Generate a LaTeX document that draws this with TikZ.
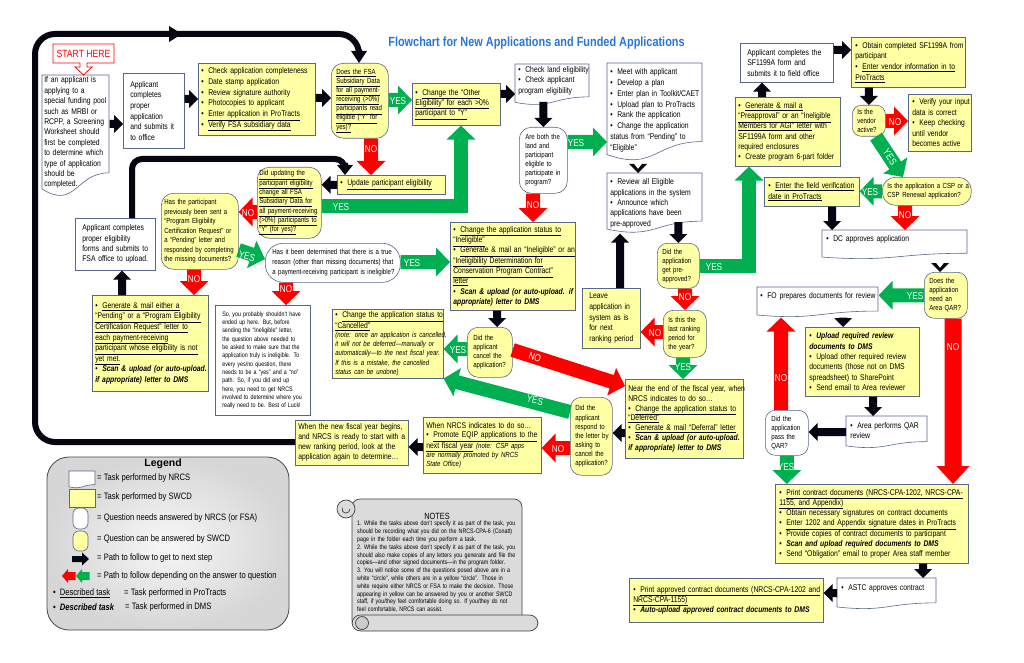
\documentclass[tikz,border=0pt]{standalone}
\usepackage{fontspec}
\setmainfont{Liberation Sans}[FakeStretch=0.82]
\newfontfamily\widefont{Liberation Sans}
\usetikzlibrary{calc}
\definecolor{bord}{RGB}{88,104,136}
\definecolor{yel}{RGB}{255,255,163}
\definecolor{grn}{RGB}{0,176,80}
\definecolor{rd}{RGB}{255,0,0}
\definecolor{blk}{RGB}{6,6,18}
\definecolor{ttl}{RGB}{38,118,222}
\newcommand\tsp{\linepenalty=5000 \spaceskip=\fontdimen2\font minus .3\fontdimen2\font\relax}
\newcommand\fsz[2]{\fontsize{#1}{#2}\selectfont\tsp}
\newcommand\fA{\fsz{8.3}{10.4}}
\newcommand\fQ{\fsz{7.4}{9.1}}
\newcommand\und[1]{\underline{#1}}
\newcommand\bfi[1]{\textbf{\textit{#1}}}
\newcommand\nt{\fontsize{7.4}{9.1}\selectfont\itshape}
\newcommand\bI{\hangindent=7pt\hangafter=1\makebox[7pt][l]{•}}
\newcommand\bi{\par\bI}
\newcommand\nI[1]{\hangindent=7pt\hangafter=1\makebox[7pt][l]{#1}}
\newcommand\dep[1]{\rule[-#1]{0pt}{#1}}
\newcommand\docsh[4]{\draw[draw=bord, fill=white, line width=0.6pt] (#1,#2) -- ({#1+#3},#2) -- ({#1+#3},{#2+0.802*#4}) .. controls ({#1+0.5*#3},{#2+0.802*#4}) and ({#1+0.5*#3},{#2+1.1075*#4}) .. (#1,{#2+0.934*#4}) -- cycle;}
\newcommand\barrow[6]{%
  \path #5 coordinate (bA) #6 coordinate (bB);
  \path ($(bB)!#4!(bA)$) coordinate (bM);
  \fill[#1] ($(bA)!#2!90:(bB)$) -- ($(bM)!#2!-90:(bA)$) -- ($(bM)!#3!-90:(bA)$) -- (bB) -- ($(bM)!#3!90:(bA)$) -- ($(bM)!#2!90:(bA)$) -- ($(bA)!#2!-90:(bB)$) -- cycle;}
\newcommand\BA[2]{\barrow{blk}{4pt}{9pt}{9pt}{#1}{#2}}
\newcommand\GA[2]{\barrow{grn}{7pt}{14.5pt}{14pt}{#1}{#2}}
\newcommand\RA[2]{\barrow{rd}{7pt}{14.5pt}{14pt}{#1}{#2}}
\tikzset{
  nowrap/.style={execute at begin node={\hyphenpenalty=10000 \exhyphenpenalty=10000 \linepenalty=5000 \rightskip=0pt plus 1fil minus 16pt\relax}},
  tb/.style={anchor=north west, inner xsep=3pt, inner ysep=1pt, align=left, font=\fA, line width=0.6pt, draw=bord, nowrap},
  sw/.style={tb, fill=yel},
  nr/.style={tb, fill=white},
  nd/.style={tb, draw=none},
  qs/.style={tb, fill=yel, rounded corners=9pt, font=\fQ},
  qn/.style={tb, fill=white, rounded corners=9pt, font=\fQ},
  bxs/.code n args={5}{\pgfmathsetmacro\bxw{#3-2*#5}\pgfkeysalso{at={(#1,#2)}, minimum width=#3pt, minimum height=#4pt, inner xsep=#5pt, text width=\bxw pt}},
  bx/.style n args={4}{bxs={#1}{#2}{#3}{#4}{3}},
  lab/.style={text=white, font=\fsz{10}{11}, inner sep=0pt},
  lt/.style={anchor=west, inner sep=0pt, font=\fsz{9.3}{11}},
  loopl/.style={draw=blk, line width=6pt, rounded corners=20pt},
  scrl/.style={draw=gray!50!black, fill=gray!28, line width=0.7pt},
}
\begin{document}
\begin{tikzpicture}[x=1pt,y=-1pt]
\useasboundingbox (0,0) rectangle (1024,663);
\fill[white] (0,0) rectangle (1024,663);

\node[font=\bfseries\fsz{13.3}{15}, text=ttl, inner sep=0pt] (title) at (536.5,43) {Flowchart for New Applications and Funded Applications};

% ---------- left part ----------
\docsh{42}{75}{67}{122}
\node[nd, bxs={42}{75}{67}{122}{2}] (scr) {If an applicant is\\applying to a\\special funding pool\\such as MRBI or\\RCPP, a Screening\\Worksheet should\\first be completed\\to determine which\\type of application\\should be\\completed.\dep{8.7pt}};
\draw[draw=rd, line width=0.8pt, fill=white] (53,44) -- (114,44) -- (114,63) -- (87,63) -- (87,67) -- (92,67) -- (83.5,75) -- (75,67) -- (80,67) -- (80,63) -- (53,63) -- cycle;
\node[text=rd, font=\fsz{10.5}{12}, inner sep=0pt] (start) at (83.5,53.5) {START HERE};

\node[nr, bxs={123}{73}{61}{75}{7}, font=\fsz{8.3}{10.6}] (app) {Applicant\\completes\\proper\\application\\and submits it\\to office};
\node[sw, bx={198}{63}{117}{72}, font=\fsz{8.3}{10.8}] (chk) {\bI Check application completeness\bi Date stamp application\bi Review signature authority\bi Photocopies to applicant\bi\und{Enter application in ProTracts}\bi\und{Verify FSA subsidiary data}};
\node[qs, bxs={331}{63}{57}{75}{5}, rounded corners=12pt] (fsa) {\und{Does the FSA}\\\und{Subsidiary Data}\\\und{for all payment-}\\\und{receiving (>0\%)}\\\und{participants read}\\\und{eligible (“Y” for}\\\und{yes)?}};
\node[sw, bx={412}{83}{88}{42}] (oth) {\bI\und{Change the “Other}\\\und{Eligibility” for each >0\%}\\\und{participant to “Y”}};
\node[sw, bx={337}{175}{108}{19}] (updb) {\bI\und{Update participant eligibility}};
\node[qs, bxs={257}{167}{64}{71}{2}, rounded corners=12pt, font=\fsz{7.4}{9.3}] (upd) {\und{Did updating the}\\\und{participant eligibility}\\\und{change all FSA}\\\und{Subsidiary Data for}\\\und{all payment-receiving}\\\und{(>0\%) participants to}\\\und{“Y” (for yes)?}};
\node[qs, bxs={161}{193}{77}{76}{3}, rounded corners=12pt, font=\fsz{7.4}{9.5}] (hasp) {Has the participant\\previously been sent a\\“Program Eligibility\\Certification Request” or\\a “Pending” letter and\\responded by completing\\the missing documents?};
\node[nr, bxs={75}{218}{80}{52}{7}, font=\fsz{8.3}{10.3}] (elig) {Applicant completes\\proper eligibility\\forms and submits to\\FSA office to upload.};
\node[sw, bxs={92}{295}{116}{96}{3}, font=\fsz{8.3}{10.6}] (gen) {\bI\und{Generate \& mail either a}\\\und{“Pending” or a “Program Eligibility}\\\und{Certification Request” letter to}\\\und{each payment-receiving}\\\und{participant whose eligibility is not}\\\und{yet met.}\bi\bfi{Scan \& upload (or auto-upload.}\\\bfi{if appropriate) letter to DMS}};
\node[qn, bxs={265}{243}{135}{39}{7}, rounded corners=18pt, font=\fsz{7.4}{10}] (hasit) {Has it been determined that there is a true\\reason (other than missing documents) that\\a payment-receiving participant is ineligible?};
\node[nr, bxs={215}{305}{95}{110}{7}, font=\fsz{6.5}{8.3}] (sorry) {So, you probably shouldn’t have\\ended up here. But, before\\sending the “Ineligible” letter,\\the question above needed to\\be asked to make sure that the\\application truly is ineligible. To\\every yes/no question, there\\needs to be a “yes” and a “no”\\path. So, if you did end up\\here, you need to get NRCS\\involved to determine where you\\really need to be. Best of Luck!};

% ---------- middle part ----------
\docsh{515}{64}{74}{41}
\node[nd, bxs={515}{64}{74}{41}{3}] (land) {\bI Check land eligibility\bi Check applicant\\program eligibility\dep{9.7pt}};
\node[qn, bxs={519}{127}{48}{66}{6}, rounded corners=12pt] (both) {Are both the\\land and\\participant\\eligible to\\participate in\\program?};
\docsh{607}{63}{95}{98}
\node[nd, bxs={607}{63}{95}{98}{3}, font=\fsz{8.3}{10.9}] (plan) {\bI Meet with applicant\bi Develop a plan\bi Enter plan in Toolkit/CAET\bi Upload plan to ProTracts\bi Rank the application\bi Change the application\\status from “Pending” to\\“Eligible”\dep{5.7pt}};
\docsh{607}{173}{95}{60}
\node[nd, bxs={607}{173}{95}{60}{3}] (rev) {\bI Review all Eligible\\applications in the system\bi Announce which\\applications have been\\pre-approved};
\node[qs, bxs={657}{243}{42}{45}{5}, rounded corners=10pt] (pre) {Did the\\application\\get pre-\\approved?};
\node[qs, bxs={663}{310}{43}{47}{5}, rounded corners=10pt] (last) {Is this the\\last ranking\\period for\\the year?};
\node[sw, bxs={582}{288}{58}{60}{7}, font=\fsz{8.3}{10.7}] (leave) {Leave\\application in\\system as is\\for next\\ranking period};
\node[sw, bxs={450}{222}{125}{88}{3}, font=\fsz{8.3}{10.3}] (inel) {\bI\und{Change the application status to}\\\und{“Ineligible”}\bi\und{Generate \& mail an “Ineligible” or an}\\\und{“Ineligibility Determination for}\\\und{Conservation Program Contract”}\\\und{letter}\bi\bfi{Scan \& upload (or auto-upload. if}\\\bfi{appropriate) letter to DMS}};
\node[qs, bxs={467}{327}{45}{50}{6}, rounded corners=11pt] (canq) {Did the\\applicant\\cancel the\\application?};
\node[sw, bxs={332}{309}{111}{69}{3}, font=\fsz{8.3}{9.1}] (canc) {\bI\und{Change the application status to}\\\und{“Cancelled”}\par{\nt(note: once an application is cancelled,\\it will not be deferred—manually or\\automatically—to the next fiscal year.\\If this is a mistake, the cancelled\\status can be undone)}};
\node[sw, bxs={625}{379}{118}{79}{3}, font=\fsz{8.3}{9.9}] (near) {Near the end of the fiscal year, when\\NRCS indicates to do so…\bi\und{Change the application status to}\\\und{“Deferred”}\bi\und{Generate \& mail “Deferral” letter}\bi\bfi{Scan \& upload (or auto-upload.}\\\bfi{if appropriate) letter to DMS}};
\node[qs, bxs={570}{397}{42}{78}{5}, rounded corners=11pt] (resp) {Did the\\applicant\\respond to\\the letter by\\asking to\\cancel the\\application?};
\node[sw, bxs={423}{417}{118}{56}{3}, font=\fsz{8.3}{9.1}] (prom) {When NRCS indicates to do so…\bi\und{Promote EQIP applications to the}\\\und{next fiscal year} {\nt(note: CSP apps\\are normally promoted by NRCS\\State Office)}};
\node[sw, bxs={295}{420}{113}{45}{3}, font=\fsz{8.3}{10}] (newfy) {When the new fiscal year begins,\\and NRCS is ready to start with a\\new ranking period, look at the\\application again to determine…};

% ---------- right part ----------
\node[nr, bxs={740}{43}{93}{39}{7}] (sf) {Applicant completes the\\SF1199A form and\\submits it to field office};
\node[sw, bxs={851}{37}{114}{50}{4}, font=\fsz{8.3}{10.7}] (obt) {\bI Obtain completed SF1199A from\\participant\bi\und{Enter vendor information in to}\\\und{ProTracts}};
\node[sw, bxs={735}{97}{105}{69}{3}, font=\fsz{8.3}{10.2}] (gpre) {\bI\und{Generate \& mail a}\\\und{“Preapproval” or an “Ineligible}\\\und{Members for AGI” letter} with\\SF1199A form and other\\required enclosures\bi Create program 6-part folder};
\node[qs, bxs={852}{105}{33}{31}{5}, rounded corners=9pt] (ven) {Is the\\vendor\\active?};
\node[sw, bxs={908}{94}{63}{57}{4}, font=\fsz{8.3}{10.5}] (ver) {\bI Verify your input\\data is correct\bi Keep checking\\until vendor\\becomes active};
\node[qs, bxs={882}{177}{89}{28}{5}, rounded corners=13pt] (csp) {Is the application a CSP or a\\CSP Renewal application?};
\node[sw, bxs={764}{177}{95}{29}{4}, font=\fsz{8.3}{10.5}] (fld) {\bI\und{Enter the field verification}\\\und{date in ProTracts}};
\docsh{822}{230}{145}{29}
\node[nd, bxs={822}{230}{145}{29}{4}] (dc) {\bI DC approves application\dep{12.7pt}};
\node[qs, bxs={924}{272}{43}{46}{5}, rounded corners=10pt] (qar) {Does the\\application\\need an\\Area QAR?};
\docsh{757}{287}{121}{30}
\node[nd, bxs={757}{287}{121}{30}{3}] (fo) {\bI FO prepares documents for review\dep{13.7pt}};
\node[sw, bxs={805}{327}{114}{69}{4}, font=\fsz{8.3}{10.4}] (upl) {\bI\bfi{Upload required review}\\\bfi{documents to DMS}\bi Upload other required review\\documents (those not on DMS\\spreadsheet) to SharePoint\bi Send email to Area reviewer};
\docsh{846}{416}{81}{32}
\node[nd, bxs={846}{416}{81}{32}{4}] (area) {\bI Area performs QAR\\review\dep{4pt}};
\node[qn, bxs={765}{410}{43}{45}{6}, rounded corners=10pt] (pass) {Did the\\application\\pass the\\QAR?};
\node[sw, bxs={775}{484}{193}{79}{4}, font=\fsz{8.3}{10.3}] (prc) {\bI\und{Print contract documents (NRCS-CPA-1202, NRCS-CPA-}\\\und{1155, and Appendix)}\bi Obtain necessary signatures on contract documents\bi\und{Enter 1202 and Appendix signature dates in ProTracts}\bi Provide copies of contract documents to participant\bi\bfi{Scan and upload required documents to DMS}\bi Send “Obligation” email to proper Area staff member};
\docsh{837}{578}{99}{31}
\node[nd, bxs={837}{578}{99}{31}{4}] (astc) {\bI ASTC approves contract\dep{12.7pt}};
\node[sw, bxs={629}{578}{194}{44}{4}, font=\fsz{8.3}{10}] (pra) {\bI\und{Print approved contract documents (NRCS-CPA-1202 and}\\\und{NRCS-CPA-1155)}\bi\bfi{Auto-upload approved contract documents to DMS}};

% ---------- loops ----------
\draw[loopl] (newfy.west |- 0,442) -- (35,442) -- (35,34) -- (359,34) -- (359,58);
\barrow{blk}{3pt}{8pt}{12pt}{(359,50)}{(fsa.north -| 359,0)}
\fill[blk] (169,26) -- (182,34) -- (169,42) -- cycle;
\draw[loopl, rounded corners=10pt] (elig.north -| 132,0) -- (132,159) -- (345,159) -- (345,171);
\barrow{blk}{3pt}{8pt}{10pt}{(345,163)}{(updb.north -| 345,0)}

% ---------- black arrows ----------
\BA{(scr.east |- 0,124)}{(app.west |- 0,124)}
\BA{(app.east |- 0,99)}{(chk.west |- 0,99)}
\BA{(chk.east |- 0,98)}{(fsa.west |- 0,98)}
\BA{(oth.east |- 0,94)}{(land.west |- 0,94)}
\BA{(both.north |- 0,102)}{(both.north)}
\BA{(rev.north -| 638,0 |- 0,157)}{(rev.north -| 638,0)}
\BA{(pre.north |- 0,222)}{(pre.north)}
\BA{(leave.north -| 620,0)}{(rev.south -| 620,0)}
\BA{(near.west |- 0,433)}{(resp.east |- 0,433)}
\BA{(inel.south -| 497,0)}{(canq.north -| 497,0)}
\BA{(prom.west |- 0,447)}{(newfy.east |- 0,447)}
\BA{(updb.west)}{(upd.east |- updb.west)}
\BA{(gen.north -| 122,0)}{(elig.south -| 122,0)}
\BA{(gpre.north -| 762,0)}{(sf.south -| 762,0)}
\BA{(sf.east |- 0,50)}{(obt.west |- 0,50)}
\BA{(ven.north |- obt.south)}{(ven.north)}
\BA{(fld.south -| 832,0)}{(dc.north -| 832,0)}
\BA{(qar.north -| 940,0 |- 0,254)}{(qar.north -| 940,0)}
\BA{(fo.south -| 843,0 |- 0,312)}{(upl.north -| 843,0)}
\BA{(upl.south -| 873,0)}{(area.north -| 873,0)}
\BA{(area.west |- 0,432)}{(pass.east |- 0,432)}
\BA{(prc.south -| 923,0)}{(astc.north -| 923,0)}
\BA{(astc.west |- 0,593)}{(pra.east |- 0,593)}

% ---------- green arrows ----------
\GA{(fsa.east |- 0,100)}{(oth.west |- 0,100)}
\GA{(both.east |- 0,142)}{(plan.west |- 0,142)}
\draw[grn, line width=14pt] (upd.east |- 0,206) -- (461,206) -- (461,136);
\GA{(461,145)}{(oth.south -| 461,0)}
\draw[grn, line width=14pt] (pre.east |- 0,266) -- (749,266) -- (749,176);
\GA{(749,185)}{(gpre.south -| 749,0)}
\GA{(last.south -| 683,0)}{(near.north -| 683,0)}
\GA{(hasp.east |- 0,250)}{(hasit.west |- 0,259)}
\GA{(hasit.east |- 0,262)}{(inel.west |- 0,262)}
\GA{(canq.west |- 0,349)}{(canc.east |- 0,349)}
\GA{(resp.west |- 0,412)}{(canc.south east)}
\GA{(ven.south -| 876,0)}{(csp.north -| 903,0)}
\GA{(csp.west)}{(fld.east |- csp.west)}
\GA{(qar.west)}{(fo.east |- qar.west)}
\GA{(pass.south)}{(prc.north -| pass.south)}

% ---------- red arrows ----------
\RA{(fsa.south -| 371,0)}{(updb.north -| 371,0)}
\RA{(both.south -| 533,0)}{(inel.north -| 533,0)}
\RA{(upd.west |- 0,212)}{(hasp.east |- 0,212)}
\RA{(hasp.south -| 194,0)}{(gen.north -| 194,0)}
\RA{(hasit.south -| 286,0)}{(sorry.north -| 286,0)}
\RA{(canq.east |- 0,350)}{(near.west |- 0,386)}
\RA{(pre.south -| 685,0)}{(last.north -| 685,0)}
\RA{(last.west |- 0,332)}{(leave.east |- 0,332)}
\RA{(resp.west |- 0,448)}{(prom.east |- 0,448)}
\RA{(ven.east |- 0,121)}{(ver.west |- 0,121)}
\RA{(csp.south -| 905,0)}{(dc.north -| 905,0)}
\barrow{rd}{8.5pt}{16.5pt}{18pt}{(qar.south -| 953,0)}{(prc.north -| 953,0)}
\RA{(pass.north -| 781,0)}{(fo.south -| 781,0)}

% ---------- labels ----------
\node[lab] (y1) at (398,101) {YES};
\node[lab] (n1) at (371,149) {NO};
\node[lab] (y2) at (576,143) {YES};
\node[lab] (n2) at (533,205) {NO};
\node[lab] (y3) at (341,207) {YES};
\node[lab] (n3) at (248,213) {NO};
\node[lab] (n4) at (194,279) {NO};
\node[lab, rotate=-16] (y4) at (247,256) {YES};
\node[lab] (y5) at (412,263) {YES};
\node[lab] (n5) at (286,289) {NO};
\node[lab] (y6) at (714,267) {YES};
\node[lab] (n6) at (685,297) {NO};
\node[lab] (n7) at (655,333) {NO};
\node[lab] (y7) at (683,367) {YES};
\node[lab] (y8) at (458,350) {YES};
\node[lab, rotate=-18] (n8) at (535,357) {NO};
\node[lab, rotate=-15] (y9) at (535,400) {YES};
\node[lab] (n9) at (558,449) {NO};
\node[lab] (n10) at (895,122) {NO};
\node[lab, rotate=-58] (y10) at (890,157) {YES};
\node[lab] (y11) at (870,192) {YES};
\node[lab] (n11) at (905,215) {NO};
\node[lab] (y12) at (915,296) {YES};
\node[lab] (n12) at (953,347) {NO};
\node[lab] (n13) at (781,378) {NO};
\node[lab] (y13) at (786,467) {YES};

% ---------- legend ----------
\draw[draw=gray!55!black, line width=0.8pt, inner color=gray!6, outer color=gray!32, rounded corners=22pt] (47,457) rectangle (289,630);
\node[font=\widefont\bfseries\fontsize{10.5}{12}\selectfont, inner sep=0pt] (lgt) at (163,464) {Legend};
\docsh{69}{471}{26}{17}
\draw[draw=bord, fill=yel, line width=0.6pt] (69,489) rectangle (95,507);
\draw[draw=bord, fill=white, line width=0.6pt, rounded corners=6pt] (73,508) rectangle (88,529);
\draw[draw=bord, fill=yel, line width=0.6pt, rounded corners=6pt] (73,531) rectangle (88,551);
\barrow{blk}{3pt}{6.5pt}{7pt}{(72,559)}{(89,559)}
\barrow{rd}{4pt}{7pt}{6pt}{(75.5,576)}{(62,576)}
\barrow{grn}{4pt}{7pt}{6pt}{(89.5,576)}{(76,576)}
\node[lt] (lg1) at (97,478) {= Task performed by NRCS};
\node[lt] (lg2) at (97,497) {= Task performed by SWCD};
\node[lt] (lg3) at (97,518) {= Question needs answered by NRCS (or FSA)};
\node[lt] (lg4) at (97,539) {= Question can be answered by SWCD};
\node[lt] (lg5) at (97,558) {= Path to follow to get to next step};
\node[lt] (lg6) at (97,576) {= Path to follow depending on the answer to question};
\node[lt] (lg7) at (53,593) {•\hspace{4pt}\und{Described task}};
\node[lt] (lg7b) at (124,593) {= Task performed in ProTracts};
\node[lt] (lg8) at (53,607) {•\hspace{4pt}\bfi{Described task}};
\node[lt] (lg8b) at (125,607) {= Task performed in DMS};

% ---------- notes scroll ----------
\draw[scrl, rounded corners=8pt] (352,499) rectangle (522,628);
\draw[scrl, rounded corners=8.5pt] (352,615) rectangle (538,631);
\draw[scrl, fill=gray!40] (362,623) circle (6.5pt);
\draw[scrl] (346,509) circle (9pt);
\draw[gray!50!black, line width=0.7pt] (346,509) ++(4,0) arc[start angle=0, end angle=-200, radius=4pt];
\node[font=\fsz{9}{10}, inner sep=0pt] (ntt) at (437,516) {NOTES};
\node[anchor=north west, inner sep=0pt, text width=166pt, align=left, font=\fsz{6.5}{7.8}, nowrap] (notes) at (357,521) {\nI{1.}While the tasks above don’t specify it as part of the task, you\\should be recording what you did on the NRCS-CPA-6 (Conatt)\\page in the folder each time you perform a task.\par\nI{2.}While the tasks above don’t specify it as part of the task, you\\should also make copies of any letters you generate and file the\\copies—and other signed documents—in the program folder.\par\nI{3.}You will notice some of the questions posed above are in a\\white “circle”, while others are in a yellow “circle”. Those in\\white require either NRCS or FSA to make the decision. Those\\appearing in yellow can be answered by you or another SWCD\\staff, if you/they feel comfortable doing so. If you/they do not\\feel comfortable, NRCS can assist.};
\end{tikzpicture}
\end{document}
